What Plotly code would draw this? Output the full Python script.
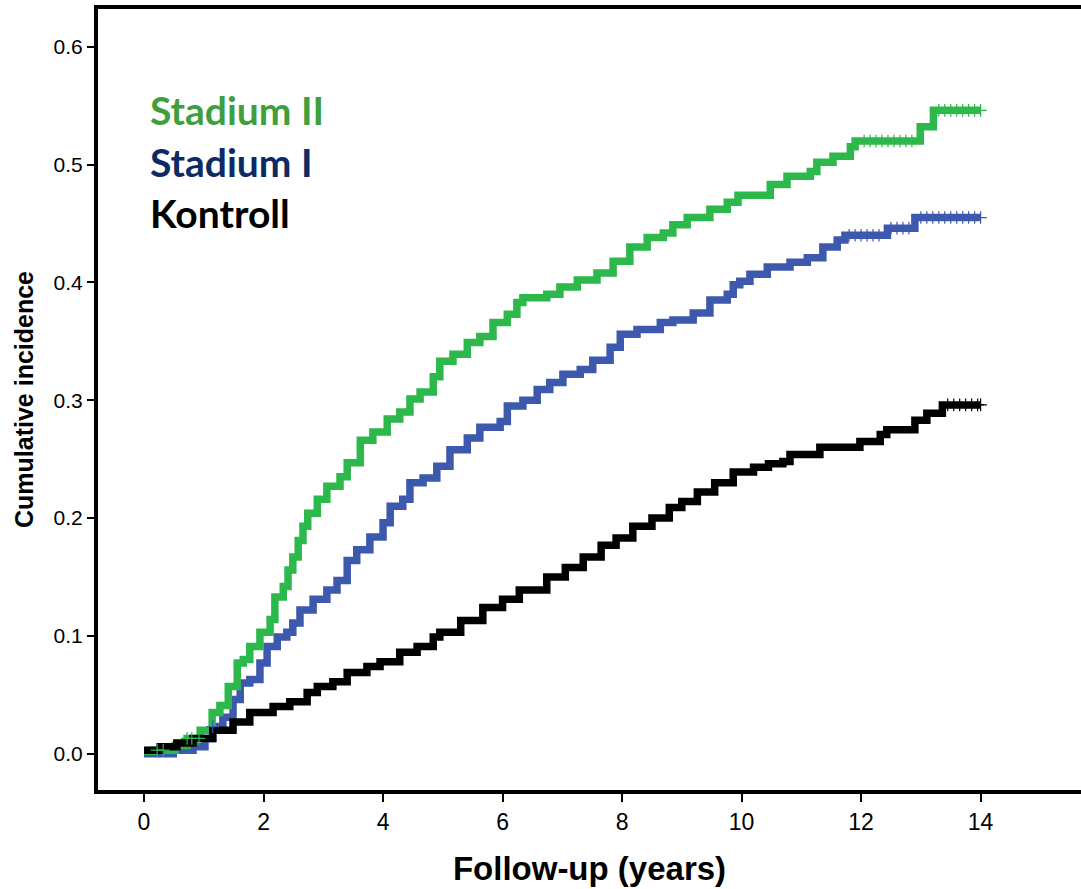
import numpy as np
import plotly.graph_objects as go

# ---- data ----
green_t = [0.0, 0.15, 0.52, 0.72, 0.94, 1.14, 1.27, 1.41, 1.56, 1.66, 1.77, 1.94, 2.11, 2.19, 2.33,
           2.41, 2.49, 2.58, 2.66, 2.74, 2.90, 3.06, 3.28, 3.40, 3.62, 3.83, 4.07, 4.28, 4.45, 4.62,
           4.84, 4.95, 5.17, 5.41, 5.62, 5.84, 6.08, 6.24, 6.34, 6.74, 6.96, 7.25, 7.58, 7.85, 8.13,
           8.42, 8.69, 8.85, 9.09, 9.47, 9.76, 9.94, 10.48, 10.76, 11.15, 11.26, 11.53, 11.82, 11.90,
           12.99, 13.21, 14.0]
green_v = [0.002, 0.003, 0.007, 0.013, 0.020, 0.035, 0.041, 0.057, 0.077, 0.080, 0.091, 0.103, 0.114,
           0.133, 0.142, 0.156, 0.167, 0.181, 0.193, 0.204, 0.216, 0.227, 0.235, 0.247, 0.266, 0.273,
           0.284, 0.290, 0.301, 0.307, 0.320, 0.333, 0.339, 0.349, 0.354, 0.366, 0.373, 0.383, 0.387,
           0.390, 0.396, 0.402, 0.408, 0.418, 0.430, 0.438, 0.442, 0.449, 0.455, 0.462, 0.468, 0.474,
           0.483, 0.490, 0.494, 0.502, 0.507, 0.515, 0.520, 0.532, 0.546, 0.546]

blue_t = [0.0, 0.49, 0.82, 1.02, 1.15, 1.32, 1.49, 1.61, 1.77, 1.94, 2.06, 2.23, 2.39, 2.49, 2.61,
          2.83, 3.06, 3.23, 3.40, 3.56, 3.78, 4.00, 4.12, 4.33, 4.45, 4.67, 4.90, 5.12, 5.41, 5.62,
          5.96, 6.08, 6.34, 6.58, 6.79, 7.01, 7.30, 7.51, 7.80, 7.97, 8.25, 8.64, 8.85, 9.19, 9.47,
          9.76, 9.86, 9.97, 10.14, 10.43, 10.81, 11.10, 11.36, 11.60, 11.73, 12.44, 12.90, 14.0]
blue_v = [0.000, 0.003, 0.006, 0.013, 0.023, 0.031, 0.046, 0.060, 0.063, 0.077, 0.091, 0.099, 0.103,
          0.111, 0.122, 0.131, 0.139, 0.147, 0.164, 0.173, 0.184, 0.196, 0.210, 0.216, 0.230, 0.234,
          0.244, 0.258, 0.268, 0.277, 0.282, 0.295, 0.300, 0.309, 0.315, 0.322, 0.326, 0.334, 0.345,
          0.356, 0.360, 0.366, 0.368, 0.374, 0.385, 0.390, 0.398, 0.401, 0.407, 0.413, 0.417, 0.421,
          0.430, 0.436, 0.440, 0.446, 0.455, 0.455]

black_t = [0.0, 0.27, 0.55, 0.82, 1.15, 1.49, 1.77, 2.16, 2.44, 2.73, 2.90, 3.16, 3.40, 3.73, 3.95,
           4.28, 4.57, 4.84, 4.95, 5.30, 5.67, 6.00, 6.28, 6.74, 7.05, 7.35, 7.65, 7.90, 8.18, 8.50,
           8.79, 9.00, 9.26, 9.55, 9.86, 10.20, 10.45, 10.69, 10.81, 11.31, 11.98, 12.32, 12.43,
           12.90, 13.10, 13.36, 14.0]
black_v = [0.003, 0.006, 0.009, 0.013, 0.020, 0.027, 0.035, 0.040, 0.044, 0.052, 0.057, 0.061, 0.069,
           0.074, 0.078, 0.086, 0.091, 0.099, 0.103, 0.113, 0.124, 0.131, 0.139, 0.150, 0.158, 0.167,
           0.177, 0.183, 0.193, 0.200, 0.209, 0.214, 0.222, 0.230, 0.239, 0.243, 0.246, 0.248, 0.254,
           0.260, 0.265, 0.271, 0.275, 0.283, 0.289, 0.296, 0.296]

# censored observations (time points of the small '+' marks)
green_cens = [0.22, 0.32, 0.72, 0.80, 0.92, 12.05, 12.15, 12.25, 12.35, 12.45, 12.55, 12.65, 12.75,
              12.85, 13.3, 13.4, 13.5, 13.6, 13.7, 13.8, 13.9, 14.0]
blue_cens = [1.15, 11.8, 11.9, 12.0, 12.1, 12.2, 12.3, 12.5, 12.6, 12.7, 12.8, 13.0, 13.1, 13.2,
             13.3, 13.4, 13.5, 13.6, 13.7, 13.8, 13.9, 14.0]
black_cens = [13.45, 13.55, 13.65, 13.75, 13.85, 13.95, 14.0]

labels = ["Stadium II", "Stadium I", "Kontroll"]
x_ticks = [0, 2, 4, 6, 8, 10, 12, 14]
y_ticks = [0.0, 0.1, 0.2, 0.3, 0.4, 0.5, 0.6]

line_colors = ["#2db84b", "#3d59ae", "#000000"]
text_colors = ["#3f9f3f", "#0c2a64", "#000000"]


def step_at(ts, vs, q):
    idx = np.searchsorted(np.asarray(ts), np.asarray(q), side="right") - 1
    idx = np.clip(idx, 0, len(vs) - 1)
    return np.asarray(vs)[idx]


fig = go.Figure()
series = [
    (blue_t, blue_v, blue_cens, line_colors[1], labels[1]),
    (green_t, green_v, green_cens, line_colors[0], labels[0]),
    (black_t, black_v, black_cens, line_colors[2], labels[2]),
]
for ts, vs, cens, col, name in series:
    fig.add_trace(go.Scatter(x=ts, y=vs, mode="lines", line=dict(color=col, width=7.5, shape="hv"),
                             name=name, showlegend=False, hoverinfo="skip"))
for ts, vs, cens, col, name in series:
    fig.add_trace(go.Scatter(x=cens, y=step_at(ts, vs, cens), mode="markers",
                             marker=dict(symbol="cross-thin", size=9,
                                         line=dict(color=col, width=1.2)),
                             showlegend=False, hoverinfo="skip"))

# group labels
ys = [0.8707, 0.804, 0.7388]
for lab, col, yy in zip(labels, text_colors, ys):
    fig.add_annotation(x=0.0505, y=yy, xref="paper", yref="paper", text="<b>%s</b>" % lab,
                       showarrow=False, xanchor="left", yanchor="middle",
                       font=dict(family="Lato", size=39, color=col))

fig.update_layout(
    width=1081, height=889,
    margin=dict(l=98, r=0, t=9, b=99),
    paper_bgcolor="white", plot_bgcolor="white",
    xaxis=dict(range=[-0.77, 15.68], tickvals=x_ticks, ticktext=[str(v) for v in x_ticks],
               showgrid=False, zeroline=False, showline=True, linecolor="black", linewidth=4,
               mirror=True, ticks="outside", ticklen=8, tickwidth=2, tickcolor="black",
               tickfont=dict(family="Liberation Sans, Arial", size=23, color="black"),
               title=dict(text="<b>Follow-up (years)</b>", standoff=24,
                          font=dict(family="Liberation Sans, Arial", size=33, color="black"))),
    yaxis=dict(range=[-0.0308, 0.632], tickvals=y_ticks, ticktext=["%.1f" % v for v in y_ticks],
               showgrid=False, zeroline=False, showline=True, linecolor="black", linewidth=4,
               mirror=False, ticks="outside", ticklen=7, tickwidth=2, tickcolor="black",
               tickfont=dict(family="Liberation Sans, Arial", size=21, color="black"),
               title=dict(text="<b>Cumulative incidence</b>", standoff=14,
                          font=dict(family="Liberation Sans, Arial", size=25, color="black"))),
)

fig.write_html("out.html")
